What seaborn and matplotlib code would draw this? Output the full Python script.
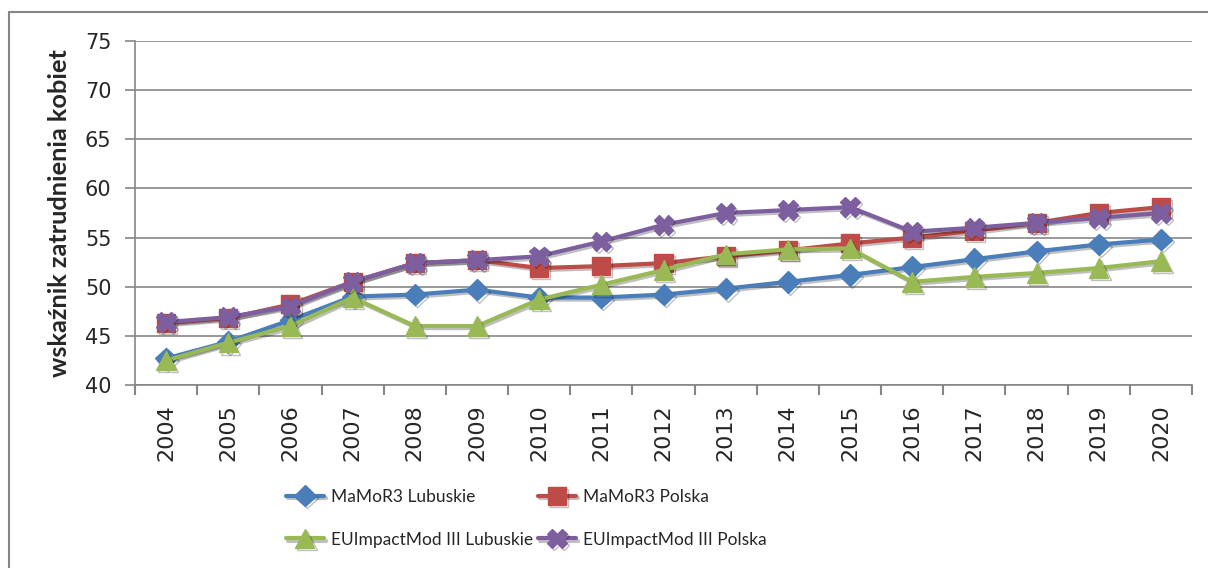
import numpy as np
import pandas as pd
import seaborn as sns
import matplotlib.pyplot as plt
import matplotlib.patheffects as pe
from matplotlib.lines import Line2D

years = [str(y) for y in range(2004, 2021)]

mamor_lubuskie = [42.7, 44.4, 46.6, 49.0, 49.2, 49.7, 48.9, 48.9, 49.2, 49.8, 50.5, 51.2, 52.0, 52.8, 53.6, 54.3, 54.8]
mamor_polska = [46.3, 46.8, 48.2, 50.5, 52.4, 52.7, 51.9, 52.1, 52.4, 53.1, 53.7, 54.4, 55.0, 55.7, 56.5, 57.5, 58.1]
eu_lubuskie = [42.5, 44.3, 46.0, 48.9, 46.0, 46.0, 48.7, 50.2, 51.7, 53.3, 53.8, 53.9, 50.5, 51.0, 51.4, 51.9, 52.6]
eu_polska = [46.4, 46.9, 48.0, 50.5, 52.4, 52.7, 53.1, 54.6, 56.3, 57.5, 57.8, 58.1, 55.6, 56.0, 56.5, 57.0, 57.5]

series = ['MaMoR3 Lubuskie', 'MaMoR3 Polska', 'EUImpactMod III Lubuskie', 'EUImpactMod III Polska']
colors = ['#4A7EBB', '#BE4B48', '#98B954', '#7D5FA0']
markers = ['D', 's', '^', 'X']
sizes = [11, 13, 14, 14]

df = pd.DataFrame({
    'rok': np.tile(np.arange(len(years)), 4),
    'wartosc': mamor_lubuskie + mamor_polska + eu_lubuskie + eu_polska,
    'seria': np.repeat(series, len(years)),
})

sns.set_style('white')
plt.rcParams['font.family'] = ['Lato', 'DejaVu Sans']

fig = plt.figure(figsize=(12.08, 5.68), dpi=100)
ax = fig.add_axes([135 / 1208, 1 - 385 / 568, 1057 / 1208, 344 / 568])

shadow = [pe.SimpleLineShadow(offset=(1.5, -1.5), alpha=0.25, shadow_color='black'), pe.Normal()]
for name, col, mk, ms in zip(series, colors, markers, sizes):
    sub = df[df['seria'] == name]
    sns.lineplot(data=sub, x='rok', y='wartosc', ax=ax, color=col, linewidth=3,
                 marker=mk, markersize=ms, markeredgecolor=col, markeredgewidth=1,
                 label=name, path_effects=shadow)

ax.set_xlim(-0.5, len(years) - 0.5)
ax.set_ylim(40, 75)
ax.set_yticks(range(40, 80, 5))
ax.set_xticks(range(len(years)))
ax.set_xticklabels(years, rotation=90, fontsize=16, family='DejaVu Sans')
ax.set_xticks(np.arange(-0.5, len(years), 1), minor=True)
for lab in ax.get_yticklabels():
    lab.set_family('DejaVu Sans')
ax.tick_params(axis='y', labelsize=15, length=7, width=1.2, color='#868686', direction='out', left=True, pad=10)
ax.tick_params(axis='x', which='major', length=0, pad=14)
ax.tick_params(axis='x', which='minor', length=7, width=1.5, color='#868686', direction='out', bottom=True)
ax.grid(axis='y', color='#868686', linewidth=1.2)
ax.set_axisbelow(True)
for s in ['top', 'right']:
    ax.spines[s].set_visible(False)
for s in ['left', 'bottom']:
    ax.spines[s].set_color('#868686')
    ax.spines[s].set_linewidth(1.2)
ax.set_xlabel('')
ax.set_ylabel('wskaźnik zatrudnienia kobiet', fontsize=18.3, fontweight='bold', labelpad=10)

h, l = ax.get_legend_handles_labels()
order = [0, 2, 1, 3]
ax.legend([h[i] for i in order], [l[i] for i in order], loc='upper left',
          bbox_to_anchor=(270 / 1208, 1 - 473 / 568), bbox_transform=fig.transFigure,
          ncol=2, frameon=False, fontsize=12.5, handlelength=2.2,
          columnspacing=0.3, labelspacing=1.55, handletextpad=0.4)

# outer chart border (left and top only visible)
fig.add_artist(Line2D([9 / 1208, 9 / 1208], [0, 1 - 12 / 568], color='#868686', linewidth=1.5))
fig.add_artist(Line2D([9 / 1208, 1], [1 - 12 / 568, 1 - 12 / 568], color='#868686', linewidth=1.5))

fig.savefig('out.png', dpi=100)
